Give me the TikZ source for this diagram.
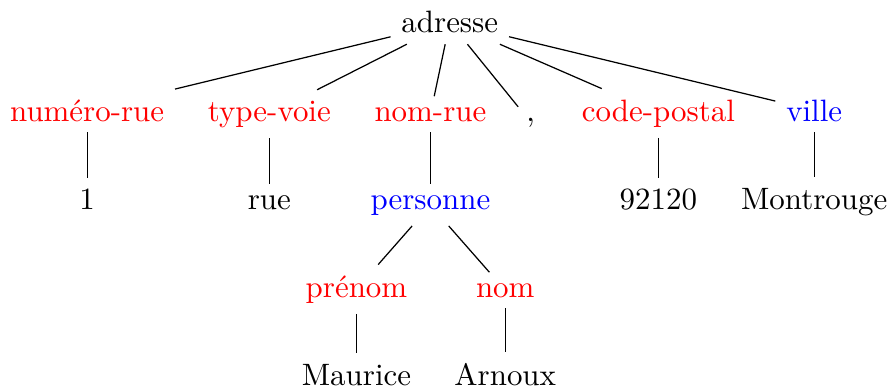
\documentclass[tikz,border=0pt]{standalone}
\usepackage{fontspec}
\tikzset{
  champ/.style={text=red},
  compose/.style={text=blue},
  feuille/.style={text=black},
}
\begin{document}
\begin{tikzpicture}[every node/.style={anchor=base}]
        \useasboundingbox (0,0) rectangle (10.1,-4.4);
        \node (adresse) at (5.11,-0.375) {adresse};
        % champs de l'adresse
        \foreach \x/\nm/\lab/\sty in {0.99/numrue/{numéro-rue}/champ, 3.06/typevoie/{type-voie}/champ,
            4.89/nomrue/{nom-rue}/champ, 6.03/virgule/{,}/feuille, 7.48/codepostal/{code-postal}/champ,
            9.25/ville/{ville}/compose} {
            \node[\sty] (\nm) at (\x,-1.375) {\lab};
            \draw (adresse) -- (\nm);
        }
        % valeurs
        \foreach \x/\nm/\lab/\parent/\sty in {0.99/un/{1}/numrue/feuille, 3.06/rue/{rue}/typevoie/feuille,
            4.89/personne/{personne}/nomrue/compose, 7.48/cp/{92120}/codepostal/feuille,
            9.25/montrouge/{Montrouge}/ville/feuille} {
            \node[\sty] (\nm) at (\x,-2.375) {\lab};
            \draw (\parent) -- (\nm);
        }
        \node[champ] (prenom) at (4.05,-3.375) {prénom};
        \node[champ] (nom) at (5.74,-3.375) {nom};
        \draw (personne) -- (prenom);
        \draw (personne) -- (nom);
        \node (maurice) at (4.05,-4.375) {Maurice};
        \node (arnoux) at (5.74,-4.375) {Arnoux};
        \draw (prenom) -- (maurice);
        \draw (nom) -- (arnoux);
    \end{tikzpicture}
\end{document}
